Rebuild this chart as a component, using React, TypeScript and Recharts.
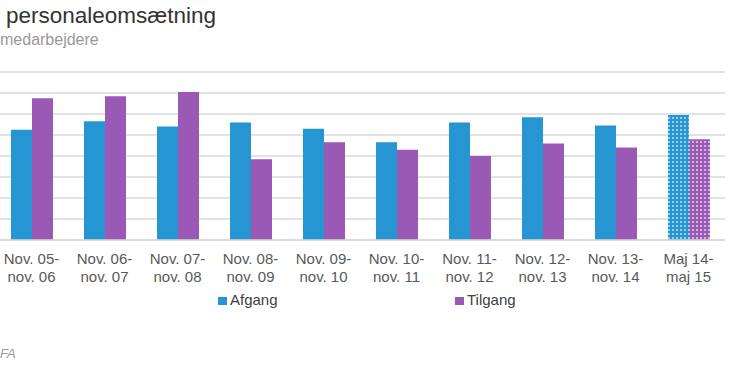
import { BarChart, Bar, XAxis, YAxis, CartesianGrid, Cell } from "recharts";

const BLUE = "#2596d1";
const PURPLE = "#9b59b6";
const GRID = "#d9d9d9";

const periods = [
  "Nov. 05-\nnov. 06",
  "Nov. 06-\nnov. 07",
  "Nov. 07-\nnov. 08",
  "Nov. 08-\nnov. 09",
  "Nov. 09-\nnov. 10",
  "Nov. 10-\nnov. 11",
  "Nov. 11-\nnov. 12",
  "Nov. 12-\nnov. 13",
  "Nov. 13-\nnov. 14",
  "Maj 14-\nmaj 15",
];
const afgang = [10.5, 11.3, 10.8, 11.2, 10.6, 9.3, 11.2, 11.7, 10.9, 11.9];
const tilgang = [13.5, 13.7, 14.1, 7.7, 9.3, 8.6, 8.0, 9.2, 8.8, 9.6];
const yTicks = [0, 2, 4, 6, 8, 10, 12, 14, 16];

const data = periods.map((p, i) => ({ period: p, afgang: afgang[i], tilgang: tilgang[i] }));
const lastIdx = periods.length - 1;

function PeriodTick({ x, y, payload }: { x?: number; y?: number; payload?: { value: string } }) {
  const lines = (payload?.value ?? "").split("\n");
  return (
    <text x={x} y={y} textAnchor="middle" fill="#595959" fontSize={15} fontFamily="Liberation Sans, Arial, sans-serif">
      {lines.map((l, i) => (
        <tspan key={i} x={x} dy={i === 0 ? 24 : 18}>
          {l}
        </tspan>
      ))}
    </text>
  );
}

export default function App() {
  const font = "Liberation Sans, Arial, sans-serif";
  return (
    <div
      style={{
        position: "fixed",
        top: 0,
        left: 0,
        width: 730,
        height: 365,
        overflow: "hidden",
        background: "#fff",
        fontFamily: font,
      }}
    >
      <div style={{ position: "absolute", left: 6, top: 3, fontSize: 22.5, color: "#333", whiteSpace: "nowrap" }}>
        personaleomsætning
      </div>
      <div style={{ position: "absolute", left: 0, top: 31, fontSize: 16, color: "#999", whiteSpace: "nowrap" }}>
        medarbejdere
      </div>

      <div style={{ position: "absolute", left: -5, top: 0 }}>
        <BarChart
          width={730}
          height={365}
          data={data}
          margin={{ top: 72, right: 0, bottom: 65, left: 0 }}
          barGap={0}
          barSize={21}
        >
          <defs>
            <pattern id="dotsBlue" width="4" height="4" patternUnits="userSpaceOnUse">
              <rect width="4" height="4" fill={BLUE} />
              <rect x="1" y="1" width="2" height="2" fill="#7cc0e6" />
              <rect x="1.5" y="1.5" width="1" height="1" fill="#fff" />
            </pattern>
            <pattern id="dotsPurple" width="4" height="4" patternUnits="userSpaceOnUse">
              <rect width="4" height="4" fill={PURPLE} />
              <rect x="1" y="1" width="2" height="2" fill="#c39dd3" />
              <rect x="1.5" y="1.5" width="1" height="1" fill="#fff" />
            </pattern>
          </defs>
          <CartesianGrid vertical={false} stroke={GRID} strokeWidth={1.3} />
          <XAxis
            dataKey="period"
            interval={0}
            tickLine={false}
            tickSize={0}
            tickMargin={0}
            axisLine={{ stroke: GRID, strokeWidth: 1.3 }}
            height={60}
            tick={<PeriodTick />}
          />
          <YAxis hide domain={[0, 16]} ticks={yTicks} tickCount={yTicks.length} interval={0} />
          <Bar dataKey="afgang" fill={BLUE} isAnimationActive={false}>
            {data.map((_, i) => (
              <Cell key={i} fill={i === lastIdx ? "url(#dotsBlue)" : BLUE} />
            ))}
          </Bar>
          <Bar dataKey="tilgang" fill={PURPLE} isAnimationActive={false}>
            {data.map((_, i) => (
              <Cell key={i} fill={i === lastIdx ? "url(#dotsPurple)" : PURPLE} />
            ))}
          </Bar>
        </BarChart>
      </div>

      {/* Legend */}
      <div style={{ position: "absolute", left: 218, top: 297, width: 9, height: 8, background: BLUE }} />
      <div style={{ position: "absolute", left: 230, top: 291, fontSize: 15, color: "#404040" }}>Afgang</div>
      <div style={{ position: "absolute", left: 455, top: 297, width: 9, height: 8, background: PURPLE }} />
      <div style={{ position: "absolute", left: 467, top: 291, fontSize: 15, color: "#404040" }}>Tilgang</div>

      <div style={{ position: "absolute", left: 0, top: 346, fontSize: 13, color: "#999", fontStyle: "italic" }}>FA</div>
    </div>
  );
}
